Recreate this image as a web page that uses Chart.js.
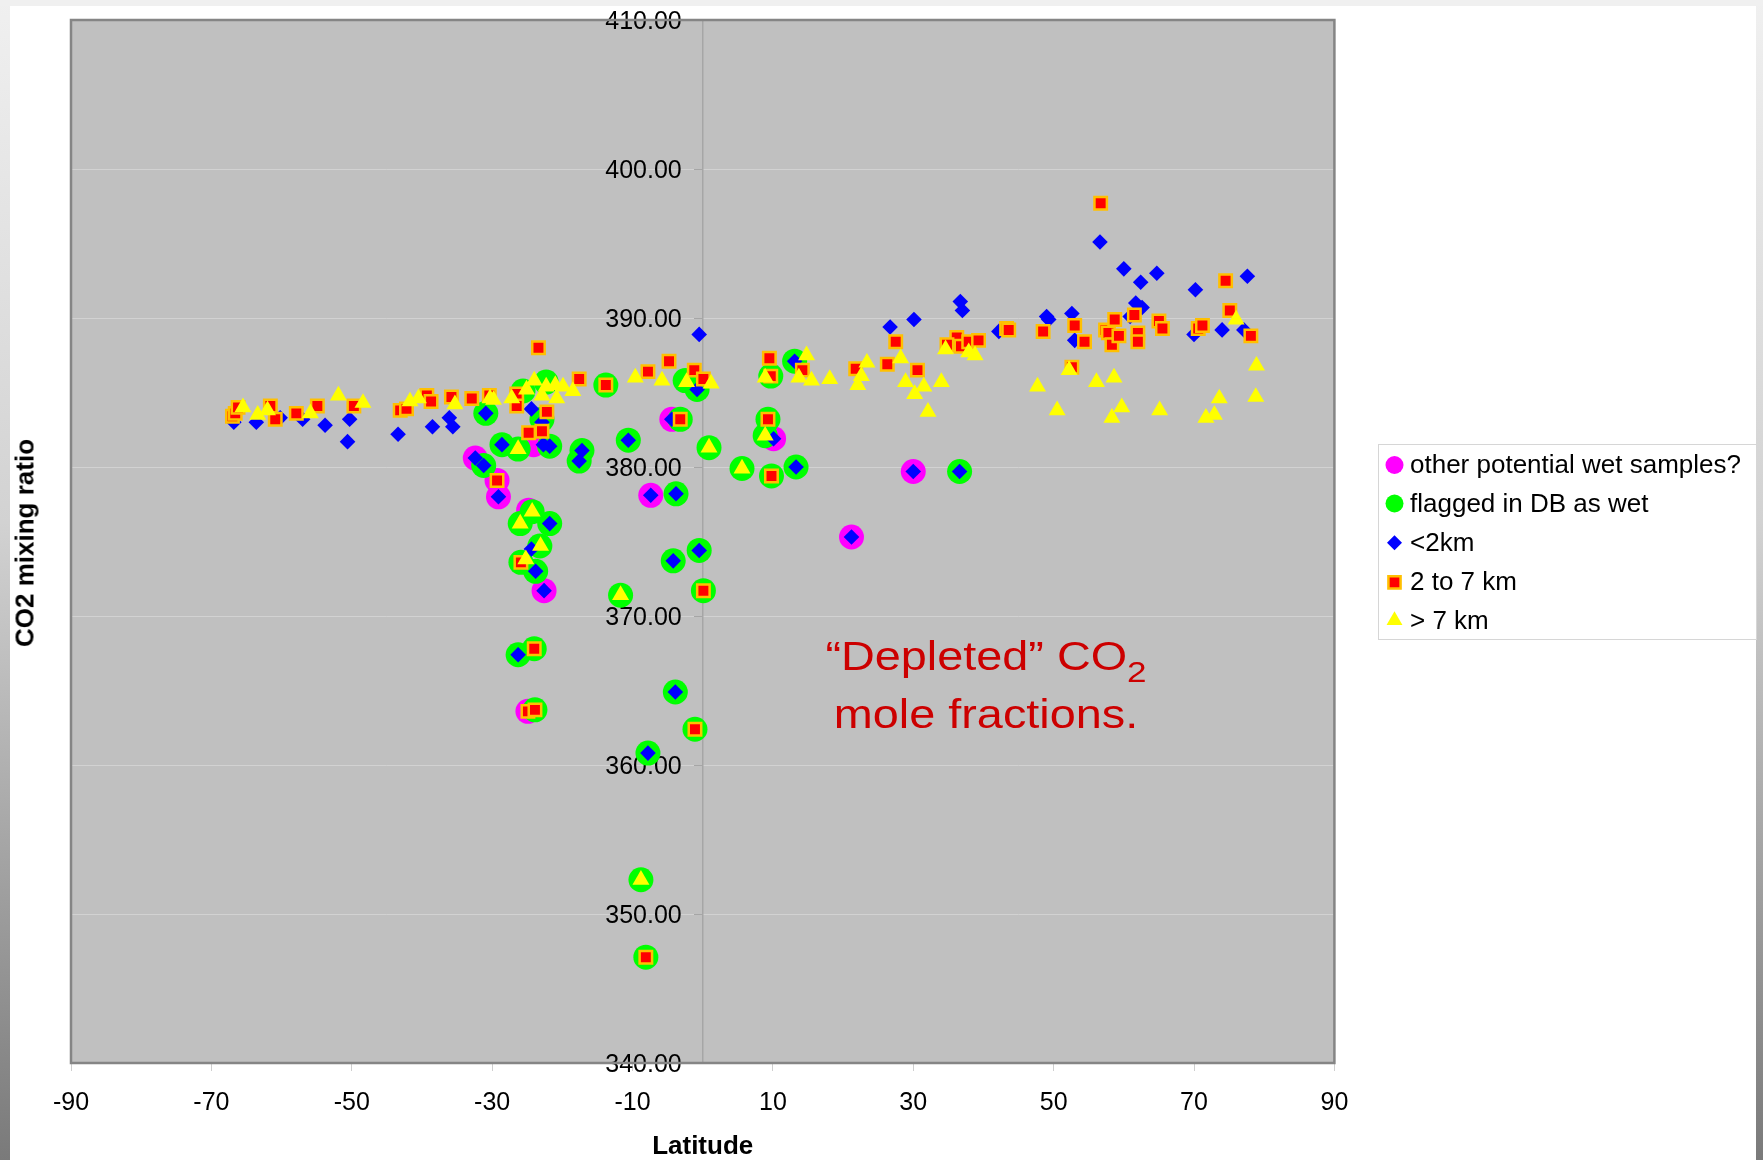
<!DOCTYPE html>
<html>
<head>
<meta charset="utf-8">
<script src="https://cdn.jsdelivr.net/npm/chart.js"></script>
<style>
html,body{margin:0;padding:0;width:1763px;height:1160px;overflow:hidden;}
body{position:relative;background:linear-gradient(to bottom,#f0f0f0 0%,#d2d2d2 45%,#7a7a7a 100%);font-family:"Liberation Sans",Arial,sans-serif;}
#topstrip{position:absolute;left:0;top:0;width:1763px;height:6px;background:#f0f0f0;}
#panel{position:absolute;left:10px;top:6px;width:1746px;height:1154px;background:#ffffff;}
canvas{position:absolute;left:0;top:0;}
#ytitle{position:absolute;left:25px;top:543px;transform:translate(-50%,-50%) rotate(-90deg);font-weight:bold;font-size:26px;white-space:nowrap;color:#000;}
#note{position:absolute;left:736px;top:627px;width:500px;text-align:center;font-size:40px;line-height:58px;color:#cc0000;transform:scaleX(1.17);transform-origin:50% 50%;white-space:nowrap;}
#note .sub{font-size:30px;line-height:1;position:relative;top:12px;}
</style>
</head>
<body>
<div id="topstrip"></div>
<div id="panel"></div>
<canvas id="c" width="1763" height="1160"></canvas>
<div id="ytitle">CO2 mixing ratio</div>
<div id="note"><div>“Depleted” CO<span class="sub">2</span></div><div>mole fractions.</div></div>
<script>
// ---- data (latitude, CO2) per series ----
const seriesLabels = ["other potential wet samples?", "flagged in DB as wet", "<2km", "2 to 7 km", "> 7 km"];

const wetOtherLat = [-32.4, -29.3, -29.1, -24.8, -24.1, -22.6, -24.9, -7.4, -4.4, 10.1, 21.2, 30.0];
const wetOtherCO2 = [380.6, 379.1, 378.0, 377.1, 381.5, 371.7, 363.6, 378.1, 383.2, 381.9, 375.3, 379.7];

const flaggedWetLat = [-30.9, -28.6, -31.2, -26.3, -25.6, -22.3, -22.9, -21.8, -17.2, -17.6, -13.8, -10.6, -3.2, -2.5, -0.8, -21.8, -26.0, -24.3, -23.2, -25.9, -23.8, -26.3, -24.0, -23.9, -11.7, -3.8, -0.5, -4.2, 0.1, 0.9, 5.6, 9.8, 13.3, 9.3, 8.9, 9.7, 13.1, 36.6, -3.9, -1.1, -7.8, -8.8, -8.1];
const flaggedWetCO2 = [383.6, 381.5, 380.1, 381.2, 385.1, 385.7, 383.2, 381.4, 381.1, 380.4, 385.5, 381.8, 383.2, 385.8, 385.2, 376.2, 376.2, 377.0, 374.7, 373.6, 373.0, 367.4, 367.8, 363.7, 371.4, 378.2, 374.4, 373.7, 371.7, 381.3, 379.9, 379.4, 380.0, 383.2, 382.1, 386.1, 387.1, 379.7, 364.9, 362.4, 360.8, 352.3, 347.1];

const below2Lat = [-66.8, -63.6, -60.2, -57.0, -53.8, -50.3, -50.6, -43.4, -38.5, -36.1, -35.6, -30.9, -28.6, -32.4, -31.2, -29.1, -24.4, -22.7, -21.8, -22.9, -17.2, -17.6, -21.8, -24.4, -23.8, -22.6, -26.3, -10.6, -4.4, -7.4, -3.8, -0.5, -4.2, -3.9, -7.8, -0.5, -0.8, 10.1, 13.3, 13.1, 21.2, 30.0, 36.6, 26.7, 30.1, 36.7, 37.0, 42.2, 49.0, 49.3, 52.6, 53.0, 56.6, 60.0, 62.4, 64.7, 70.2, 77.6, 61.7, 62.6, 60.9, 70.0, 74.0, 77.1];
const below2CO2 = [383.0, 383.0, 383.3, 383.2, 382.8, 383.2, 381.7, 382.2, 382.7, 383.3, 382.7, 383.6, 381.5, 380.6, 380.1, 378.0, 383.9, 381.5, 381.4, 383.0, 381.1, 380.4, 376.2, 374.5, 373.0, 371.7, 367.4, 381.8, 383.2, 378.1, 378.2, 374.4, 373.7, 364.9, 360.8, 388.9, 385.2, 381.9, 380.0, 387.1, 375.3, 379.7, 379.7, 389.4, 389.9, 391.1, 390.5, 389.1, 390.1, 389.9, 390.3, 388.5, 395.1, 393.3, 392.4, 393.0, 391.9, 392.8, 391.0, 390.7, 390.1, 388.9, 389.2, 389.2];

const mid27Lat = [-67.0, -66.6, -66.2, -61.6, -60.9, -57.9, -54.9, -49.7, -43.1, -42.2, -39.3, -38.7, -35.8, -32.9, -30.4, -26.5, -26.5, -23.4, -22.2, -24.8, -22.9, -29.3, -17.6, -13.8, -7.8, -4.8, -1.2, 0.1, -3.2, -25.9, -24.0, -24.9, -23.9, -1.1, -8.1, 0.1, 9.5, 9.7, 9.3, 9.8, 14.2, 21.8, 26.3, 27.5, 30.6, 36.2, 34.8, 36.8, 37.9, 39.3, 43.3, 43.6, 48.5, 52.6, 53.0, 54.4, 56.7, 57.4, 57.8, 58.3, 58.7, 59.3, 61.5, 62.0, 62.0, 65.0, 65.5, 70.6, 71.2, 74.5, 75.1, 78.1];
const mid27CO2 = [383.4, 383.6, 384.0, 384.1, 383.2, 383.6, 384.1, 384.1, 383.8, 383.9, 384.8, 384.4, 384.7, 384.6, 384.8, 384.9, 384.1, 388.0, 383.7, 382.3, 382.4, 379.1, 385.9, 385.5, 386.4, 387.1, 386.5, 385.9, 383.2, 373.6, 367.8, 363.6, 363.7, 362.4, 347.1, 371.7, 387.3, 386.1, 383.2, 379.4, 386.5, 386.6, 386.9, 388.4, 386.5, 388.7, 388.2, 388.1, 388.4, 388.5, 389.3, 389.2, 389.1, 386.7, 389.5, 388.4, 397.7, 389.2, 389.0, 388.2, 389.9, 388.8, 390.2, 389.0, 388.4, 389.8, 389.3, 389.3, 389.5, 392.5, 390.5, 388.8];

const above7Lat = [-65.5, -63.4, -62.0, -55.9, -51.9, -48.4, -41.7, -40.5, -35.3, -30.3, -29.8, -27.2, -25.1, -24.0, -22.3, -21.0, -20.8, -19.9, -18.5, -22.9, -26.3, -26.0, -24.3, -23.1, -25.2, -11.7, -8.8, -9.6, -5.8, -2.3, 1.2, 0.9, 5.6, 8.9, 8.9, 13.7, 14.8, 15.5, 18.1, 22.1, 22.6, 23.4, 28.2, 28.9, 30.2, 31.5, 32.1, 34.0, 34.6, 37.9, 38.8, 47.7, 50.5, 52.2, 56.1, 58.6, 58.3, 59.7, 65.1, 71.7, 72.9, 73.6, 76.0, 78.9, 78.8];
const above7CO2 = [384.0, 383.5, 383.8, 383.6, 384.8, 384.3, 384.4, 384.6, 384.2, 384.6, 384.5, 384.6, 385.2, 385.8, 385.4, 385.5, 384.6, 385.4, 385.1, 384.8, 381.2, 376.2, 377.0, 374.7, 373.8, 371.4, 352.3, 386.0, 385.8, 385.7, 385.6, 381.3, 379.9, 382.1, 386.0, 386.0, 387.5, 385.8, 385.9, 385.5, 386.1, 387.0, 387.3, 385.7, 384.9, 385.4, 383.7, 385.7, 387.9, 387.7, 387.5, 385.4, 383.8, 386.5, 385.7, 386.0, 383.3, 384.0, 383.8, 383.3, 383.5, 384.6, 389.9, 386.8, 384.7];

const xTickStep = 20, xMin = -90, xMax = 90;
const yTickStep = 10, yMin = 340, yMax = 410;

function pts(lat, co2) { return lat.map((x, i) => ({x: x, y: co2[i]})); }

Chart.defaults.font.family = '"Liberation Sans", Arial, sans-serif';
Chart.defaults.color = '#000';

const plotFrame = {
  id: 'plotFrame',
  beforeDraw(chart) {
    const a = chart.chartArea, ctx = chart.ctx;
    ctx.save();
    ctx.fillStyle = '#c0c0c0';
    ctx.fillRect(a.left, a.top, a.right - a.left, a.bottom - a.top);
    ctx.restore();
    // y tick labels sit left of the tick marks of the axis drawn at x = 0
    const ys = chart.scales.y;
    ys.getLabelItems().forEach(it => {
      if (!it._shifted) { it.options.translation[0] -= 21; it.options.translation[1] += 2.5; it._shifted = true; }
    });
  },
  beforeDatasetsDraw(chart) {
    const a = chart.chartArea, ctx = chart.ctx;
    ctx.save();
    ctx.strokeStyle = '#858585';
    ctx.lineWidth = 2.5;
    ctx.strokeRect(a.left, a.top, a.right - a.left, a.bottom - a.top);
    ctx.restore();
  }
};

const boxLegend = {
  id: 'boxLegend',
  afterDraw(chart) {
    const ctx = chart.ctx;
    ctx.save();
    ctx.fillStyle = '#ffffff';
    ctx.fillRect(1378, 444, 378, 195);
    ctx.strokeStyle = '#d6d6d6';
    ctx.lineWidth = 1;
    ctx.strokeRect(1378.5, 444.5, 378, 195);
    const ys = [465, 503.5, 542.7, 582.3, 620.5];
    const radii = [9, 9, 7.5, 8.6, 9.2];
    chart.data.datasets.forEach((ds, i) => {
      ctx.fillStyle = ds.backgroundColor;
      ctx.strokeStyle = ds.borderColor || ds.backgroundColor;
      ctx.lineWidth = ds.borderWidth || 0;
      Chart.helpers.drawPoint(ctx, {pointStyle: ds.pointStyle, radius: radii[i], borderWidth: ds.borderWidth || 0, rotation: 0}, 1394.5, ys[i]);
      ctx.fillStyle = '#000';
      ctx.font = '26px "Liberation Sans", Arial, sans-serif';
      ctx.textBaseline = 'middle';
      ctx.textAlign = 'left';
      ctx.fillText(ds.label, 1410, ys[i] + 1);
    });
    ctx.restore();
  }
};

new Chart(document.getElementById('c'), {
  type: 'scatter',
  data: {
    datasets: [
      {label: seriesLabels[0], data: pts(wetOtherLat, wetOtherCO2), pointStyle: 'circle', pointRadius: 12.5, pointHoverRadius: 12.5, backgroundColor: '#ff00ff', borderColor: '#ff00ff', borderWidth: 0, order: 5},
      {label: seriesLabels[1], data: pts(flaggedWetLat, flaggedWetCO2), pointStyle: 'circle', pointRadius: 12.5, pointHoverRadius: 12.5, backgroundColor: '#00ff00', borderColor: '#00ff00', borderWidth: 0, order: 4},
      {label: seriesLabels[2], data: pts(below2Lat, below2CO2), pointStyle: 'rectRot', pointRadius: 7.8, pointHoverRadius: 7.8, backgroundColor: '#0000ff', borderColor: '#0000ff', borderWidth: 0, order: 3},
      {label: seriesLabels[3], data: pts(mid27Lat, mid27CO2), pointStyle: 'rect', pointRadius: 8.8, pointHoverRadius: 8.8, backgroundColor: '#ff0000', borderColor: '#ffc000', borderWidth: 2.5, order: 2},
      {label: seriesLabels[4], data: pts(above7Lat, above7CO2), pointStyle: 'triangle', pointRadius: 9.8, pointHoverRadius: 9.8, backgroundColor: '#ffff00', borderColor: '#ffff00', borderWidth: 0, order: 1}
    ]
  },
  options: {
    responsive: false,
    animation: false,
    events: [],
    layout: {padding: {left: 71, right: 428.6, top: 20, bottom: 0}},
    plugins: {legend: {display: false}, tooltip: {enabled: false}},
    scales: {
      x: {
        type: 'linear', position: 'bottom', min: xMin, max: xMax,
        afterFit(scale) { scale.height = 97; },
        ticks: {stepSize: xTickStep, font: {size: 25}, color: '#000', padding: 17, maxRotation: 0},
        grid: {drawOnChartArea: false, drawTicks: true, tickLength: 8, tickColor: '#cfcfcf'},
        border: {display: false},
        title: {display: true, text: 'Latitude', font: {size: 26, weight: 'bold', lineHeight: 1}, padding: 0, color: '#000'}
      },
      y: {
        type: 'linear', position: {x: 0}, min: yMin, max: yMax,
        ticks: {stepSize: yTickStep, font: {size: 25}, color: '#000', padding: 0, callback: (v) => Number(v).toFixed(2)},
        grid: {color: '#d2d2d2', lineWidth: 1, tickLength: 8, tickColor: '#a6a6a6'},
        border: {display: true, color: '#a6a6a6', width: 1.5}
      }
    }
  },
  plugins: [plotFrame, boxLegend]
});
</script>
</body>
</html>
